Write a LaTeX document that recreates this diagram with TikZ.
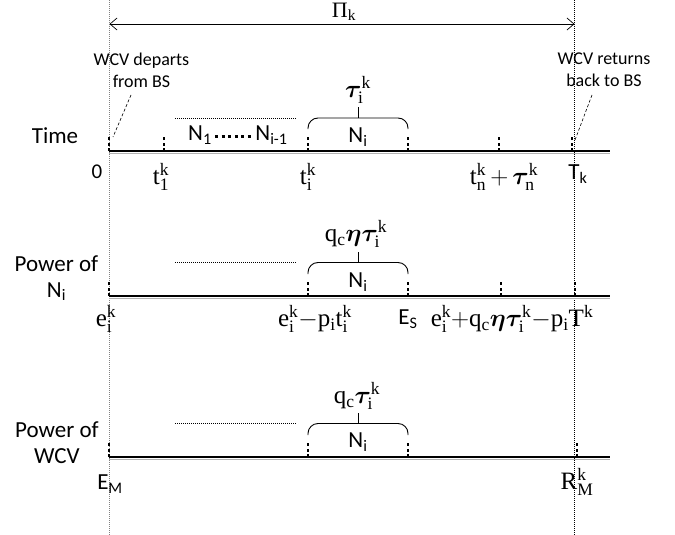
\RequirePackage{fix-cm}
\documentclass[tikz,border=0pt]{standalone}
\usepackage{fontspec}
\setmainfont{Liberation Serif}
\newfontfamily\calfont{Carlito}
\usepackage{bm}
\usetikzlibrary{arrows.meta}
\newcommand\mr[1]{\mathrm{#1}}
\newcommand\opm{\mathord{-}}
\newcommand\opp{\mathord{+}}
\tikzset{
  axisline/.style={line width=2.4pt},
  axshadow/.style={line width=1.6pt, black!30},
  tickm/.style={line width=1.2pt, dash pattern=on 3pt off 2.5pt},
  guide/.style={line width=0.7pt, dash pattern=on 1pt off 1pt},
  dotrow/.style={line width=0.8pt, dash pattern=on 1pt off 1pt},
  bracel/.style={line width=0.9pt, rounded corners=10pt},
  pointer/.style={line width=0.6pt, dash pattern=on 3pt off 2pt},
  sanslab/.style={font=\calfont\fontsize{18}{22}\selectfont, align=center, inner sep=0pt},
  rowlab/.style={font=\calfont\fontsize{23}{26}\selectfont, align=center, inner sep=0pt},
  axlab/.style={font=\calfont\fontsize{23}{24}\selectfont, inner sep=0pt},
  mlab/.style={font=\fontsize{25}{28}\selectfont, inner sep=0pt},
  bigdots/.style={line width=3pt, dash pattern=on 3pt off 3.6pt},
  span/.style={line width=0.7pt, {Straight Barb[length=7pt,width=12pt]}-{Straight Barb[length=7pt,width=12pt]}}
}
\begin{document}
\begin{tikzpicture}[x=1pt,y=-1pt]
\useasboundingbox (0,0) rectangle (675,535);
% vertical guides
\coordinate (gl0) at (109.5,0); \coordinate (gl1) at (109.5,535);
\coordinate (gr0) at (574.5,0); \coordinate (gr1) at (574.5,535);
\draw[guide, gray] (gl0) -- (gl1);
\draw[guide] (gr0) -- (gr1);
% top span
\coordinate (sl) at (109.5,24); \coordinate (sr) at (574.5,24);
\draw[span] (sl) -- (sr);
\node[mlab, font=\fontsize{22}{24}\selectfont] (pik) at (344,12) {Π$_{\mr{k}}$};

% ===== Time row =====
\def\ya{151}
\coordinate (ta0) at (109,\ya); \coordinate (ta1) at (610,\ya);
\draw[axshadow] ([yshift=-2.3pt]ta0) -- ([yshift=-2.3pt]ta1);
\draw[axisline] (ta0) -- (ta1);
\foreach \x in {109,164,308,408,499,572} \draw[tickm] (\x,\ya) -- ++(0,-14);
\node[rowlab] (time) at (55,136) {Time};
\node[sanslab] (dep) at (141.5,70) {WCV departs\\from BS};
\coordinate (dp1) at (131,95); \coordinate (dp0) at (113,137);
\draw[pointer] (dp1) -- (dp0);
\node[sanslab] (ret) at (604,70) {WCV returns\\back to BS};
\coordinate (rp1) at (592,95); \coordinate (rp0) at (575,140);
\draw[pointer] (rp1) -- (rp0);
\draw[dotrow] (175,118) -- (297,118);
\node[rowlab] (n1) at (200,135) {N\textsubscript{1}};
\node[rowlab] (nim) at (271.5,135) {N\textsubscript{i-1}};
\draw[bigdots] ([xshift=3pt,yshift=-1pt]n1.east) -- ([xshift=-1pt,yshift=-1pt]nim.west);
\draw[bracel] (308,129) -- (308,118) -- (408,118) -- (408,129);
\draw[line width=0.9pt] (358,118) -- (358,107);
\node[mlab, anchor=south] (tau) at (358,104) {$\bm{\tau}^{\mr{k}}_{\mr{i}}$};
\node[rowlab] (nia) at (358,137) {N\textsubscript{i}};
\node[axlab, font=\calfont\fontsize{21}{22}\selectfont] (zero) at (97,172) {0};
\node[mlab, anchor=north] (t1) at (161,163) {$\mr{t}^{\mr{k}}_{\mr{1}}$};
\node[mlab, anchor=north] (ti) at (308,163) {$\mr{t}^{\mr{k}}_{\mr{i}}$};
\node[mlab, anchor=north] (tn) at (504,163) {$\mr{t}^{\mr{k}}_{\mr{n}}\,\opp\,\bm{\tau}^{\mr{k}}_{\mr{n}}$};
\node[axlab] (tk) at (578,174) {T\textsubscript{k}};

% ===== Power of N_i row =====
\def\yb{296}
\coordinate (pa0) at (109,\yb); \coordinate (pa1) at (610,\yb);
\draw[axshadow] ([yshift=-2.3pt]pa0) -- ([yshift=-2.3pt]pa1);
\draw[axisline] (pa0) -- (pa1);
\foreach \x in {109,308,408,501,575} \draw[tickm] (\x,\yb) -- ++(0,-14);
\node[rowlab] (pn) at (56.5,278) {Power of\\N\textsubscript{i}};
\draw[dotrow] (175,262.5) -- (297,262.5);
\draw[bracel] (308,274) -- (308,262.5) -- (408,262.5) -- (408,274);
\draw[line width=0.9pt] (358,262.5) -- (358,251.5);
\node[mlab, anchor=south] (qet) at (356,248) {$\mr{q}_{\mr{c}}\bm{\eta}\bm{\tau}^{\mr{k}}_{\mr{i}}$};
\node[rowlab] (nib) at (358,282) {N\textsubscript{i}};
\node[mlab, anchor=north] (ei) at (106,305) {$\mr{e}^{\mr{k}}_{\mr{i}}$};
\node[mlab, anchor=north] (ept) at (315,305) {$\mr{e}^{\mr{k}}_{\mr{i}}\opm\mr{p}_{\mr{i}}\mr{t}^{\mr{k}}_{\mr{i}}$};
\node[axlab] (es) at (408,319) {E\textsubscript{S}};
\node[mlab, anchor=north] (eqt) at (512,305) {$\mr{e}^{\mr{k}}_{\mr{i}}\opp\mr{q}_{\mr{c}}\bm{\eta}\bm{\tau}^{\mr{k}}_{\mr{i}}\opm\mr{p}_{\mr{i}}\mr{T}^{\mr{k}}$};

% ===== Power of WCV row =====
\def\yc{457}
\coordinate (wa0) at (109,\yc); \coordinate (wa1) at (610,\yc);
\draw[axshadow] ([yshift=-2.3pt]wa0) -- ([yshift=-2.3pt]wa1);
\draw[axisline] (wa0) -- (wa1);
\foreach \x in {109,308,408,577} \draw[tickm] (\x,\yc) -- ++(0,-14);
\node[rowlab] (pw) at (57,443) {Power of\\WCV};
\draw[dotrow] (175,423.5) -- (297,423.5);
\draw[bracel] (308,435) -- (308,423.5) -- (408,423.5) -- (408,435);
\draw[line width=0.9pt] (358,423.5) -- (358,413);
\node[mlab, anchor=south] (qt) at (357,410) {$\mr{q}_{\mr{c}}\bm{\tau}^{\mr{k}}_{\mr{i}}$};
\node[rowlab] (nic) at (358,442) {N\textsubscript{i}};
\node[axlab] (em) at (110,484) {E\textsubscript{M}};
\node[mlab, anchor=north] (rm) at (577,468) {$\mr{R}^{\mr{k}}_{\mr{M}}$};
\end{tikzpicture}
\end{document}
